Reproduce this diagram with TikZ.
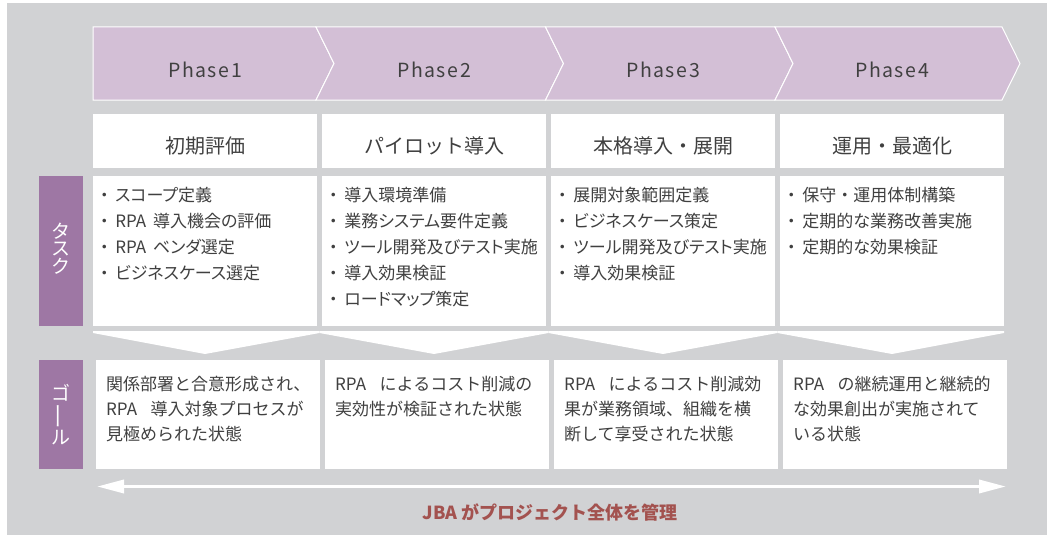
\documentclass[tikz,border=0pt]{standalone}
\usepackage{fontspec}
\setmainfont{Noto Sans CJK JP}
\newfontfamily\phasefont[LetterSpace=8]{Noto Sans CJK JP}
\newfontfamily\itemfont[RawFeature=+palt]{Noto Sans CJK JP}
\newcommand{\taskdot}{\makebox[1.3em][c]{・}}
\newcommand{\middot}{\makebox[1em][c]{・}}
\usetikzlibrary{arrows.meta,positioning}
\definecolor{rpInk}{HTML}{404040}
\definecolor{rpCanvas}{HTML}{D1D2D4}
\definecolor{rpPhase}{HTML}{D3BFD6}
\definecolor{rpTag}{HTML}{9E77A4}
\definecolor{rpRust}{HTML}{A3524F}
\tikzset{
  rp canvas/.style={fill=rpCanvas},
  rp phase/.style={fill=rpPhase, draw=white, line width=1pt, line join=miter},
  rp phase label/.style={font=\phasefont\fontsize{19.5}{22}\selectfont, text=rpInk},
  rp box/.style={fill=white, anchor=north west, inner sep=0, minimum width=224pt},
  rp head/.style={font=\fontsize{20}{23}\selectfont, text=rpInk},
  rp items/.style={font=\itemfont\fontsize{17}{26}\selectfont, text=rpInk,
    align=left, inner sep=0},
  rp state/.style={font=\fontsize{17}{25}\selectfont, text=rpInk,
    align=left, inner sep=0},
  rp chevron/.style={fill=white},
  rp tag/.style={fill=rpTag, anchor=north west, inner sep=0, minimum width=44pt},
  rp tag text/.style={font=\fontsize{19}{17.5}\selectfont, text=white,
    align=center, inner sep=0},
  rp span/.style={
    draw=white,
    line width=3.5pt,
    {Triangle[length=27pt,width=13pt]}-{Triangle[length=27pt,width=13pt]}
  },
  rp note/.style={font=\bfseries\fontsize{18}{21}\selectfont, text=rpRust}
}

\begin{document}
\begin{tikzpicture}[x=1pt,y=-1pt]
  \useasboundingbox (0,0) rectangle (1047,535);
  \path[rp canvas] (7,3) rectangle (1047,535);

  \path[rp phase] (93,27) -- (316,27) -- (334,63.5) -- (316,100) -- (93,100) -- cycle;
  \path[rp phase] (316,27) -- (545.5,27) -- (563.5,63.5) -- (545.5,100) -- (316,100) -- (334,63.5) -- cycle;
  \path[rp phase] (545.5,27) -- (775,27) -- (793,63.5) -- (775,100) -- (545.5,100) -- (563.5,63.5) -- cycle;
  \path[rp phase] (775,27) -- (1002,27) -- (1020,63.5) -- (1002,100) -- (775,100) -- (793,63.5) -- cycle;
  \node[rp phase label] (phase1) at (205,69.5) {Phase1};
  \node[rp phase label] (phase2) at (434,69.5) {Phase2};
  \node[rp phase label] (phase3) at (663,69.5) {Phase3};
  \node[rp phase label] (phase4) at (892,69.5) {Phase4};

  \node[rp box, minimum height=54pt] (head1) at (93,114) {};
  \node[rp box, minimum height=54pt] (head2) at (322,114) {};
  \node[rp box, minimum height=54pt] (head3) at (551,114) {};
  \node[rp box, minimum height=54pt] (head4) at (780,114) {};
  \node[rp head] at ([yshift=-5pt]head1.center) {初期評価};
  \node[rp head] at ([yshift=-5pt]head2.center) {パイロット導入};
  \node[rp head] at ([yshift=-5pt]head3.center) {本格導入・展開};
  \node[rp head] at ([yshift=-5pt]head4.center) {運用・最適化};

  \node[rp tag, minimum height=150pt] (tagTask) at (39,176) {};
  \node[rp tag text] at ([yshift=3pt]tagTask.center) {タ\\ス\\ク};
  \node[rp box, minimum height=150pt] (task1) at (93,176) {};
  \node[rp box, minimum height=150pt] (task2) at (322,176) {};
  \node[rp box, minimum height=150pt] (task3) at (551,176) {};
  \node[rp box, minimum height=150pt] (task4) at (780,176) {};
  \node[rp items, below right=11pt and 0pt of task1.north west] (items1)
    {\taskdot スコープ定義\\\taskdot RPA\hspace{.4em}導入機会の評価\\\taskdot RPA\hspace{.4em}ベンダ選定\\\taskdot ビジネスケース選定};
  \node[rp items, below right=11pt and 0pt of task2.north west] (items2)
    {\taskdot 導入環境準備\\\taskdot 業務システム要件定義\\\taskdot ツール開発及びテスト実施\\\taskdot 導入効果検証\\\taskdot ロードマップ策定};
  \node[rp items, below right=11pt and 0pt of task3.north west] (items3)
    {\taskdot 展開対象範囲定義\\\taskdot ビジネスケース策定\\\taskdot ツール開発及びテスト実施\\\taskdot 導入効果検証};
  \node[rp items, below right=11pt and 0pt of task4.north west] (items4)
    {\taskdot 保守\middot 運用体制構築\\\taskdot 定期的な業務改善実施\\\taskdot 定期的な効果検証};

  \path[rp chevron] (93,331) -- (319.5,331) -- (319.5,333) -- (205,354) -- (93,333) -- cycle;
  \path[rp chevron] (319.5,331) -- (548.5,331) -- (548.5,333) -- (434,354) -- (319.5,333) -- cycle;
  \path[rp chevron] (548.5,331) -- (777.5,331) -- (777.5,333) -- (663,354) -- (548.5,333) -- cycle;
  \path[rp chevron] (777.5,331) -- (1004,331) -- (1004,333) -- (892,354) -- (777.5,333) -- cycle;

  \node[rp tag, minimum height=109pt] (tagGoal) at (39,360) {};
  \node[rp tag text] at (tagGoal.center) {ゴ\\\rotatebox[origin=c]{90}{\scalebox{1.4}[1]{ー}}\\ル};
  \node[rp box, minimum height=109pt] (goal1) at (96,360) {};
  \node[rp box, minimum height=109pt] (goal2) at (325,360) {};
  \node[rp box, minimum height=109pt] (goal3) at (554,360) {};
  \node[rp box, minimum height=109pt] (goal4) at (783,360) {};
  \node[rp state, below right=16pt and 10pt of goal1.north west] (state1)
    {関係部署と合意形成され、\\RPA\hspace{.8em}導入対象プロセスが\\見極められた状態};
  \node[rp state, below right=16pt and 10pt of goal2.north west] (state2)
    {RPA\hspace{.8em}によるコスト削減の\\実効性が検証された状態};
  \node[rp state, below right=16pt and 10pt of goal3.north west] (state3)
    {RPA\hspace{.8em}によるコスト削減効\\果が業務領域、組織を横\\断して享受された状態};
  \node[rp state, below right=16pt and 10pt of goal4.north west] (state4)
    {RPA\hspace{.8em}の継続運用と継続的\\な効果創出が実施されて\\いる状態};

  \coordinate (spanL) at (97,486.5);
  \coordinate (spanR) at (1006,486.5);
  \draw[rp span] (spanL) -- (spanR);
  \node[rp note] (manage) at (550,512) {JBA がプロジェクト全体を管理};
\end{tikzpicture}
\end{document}
